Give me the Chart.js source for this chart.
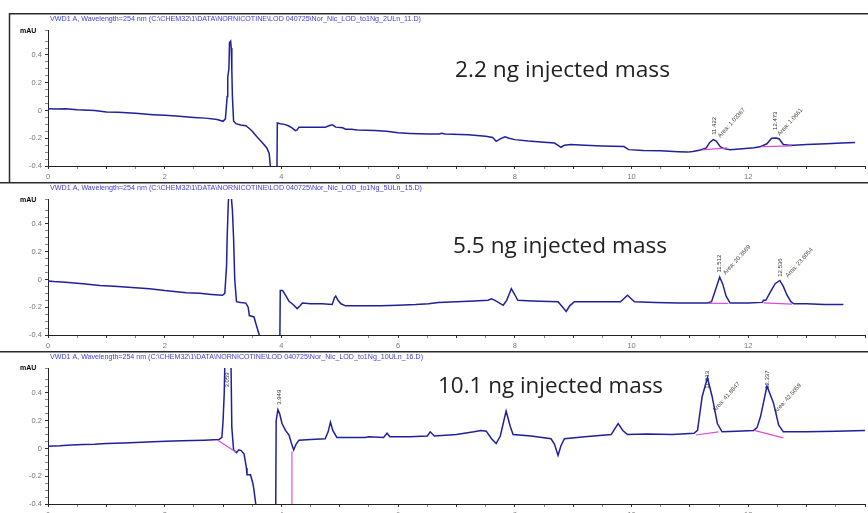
<!DOCTYPE html>
<html><head><meta charset="utf-8">
<script src="https://cdn.jsdelivr.net/npm/chart.js@4.4.1/dist/chart.umd.min.js"></script>
<style>
html,body{margin:0;padding:0;background:#fff;overflow:hidden;}
#wrap{position:relative;width:868px;height:513px;overflow:hidden;background:#fff;}
canvas{position:absolute;left:0;}
</style></head><body>
<div id="wrap">
<canvas id="c1" width="868" height="169" style="top:13px"></canvas>
<canvas id="c2" width="868" height="169" style="top:182px"></canvas>
<canvas id="c3" width="868" height="169" style="top:351px"></canvas>
</div>
<script>
// ---------- tick labels ----------
const xTickValues = [0, 2, 4, 6, 8, 10, 12];
const xTickLabels = ['0', '2', '4', '6', '8', '10', '12'];
const yTickValues = [-0.4, -0.2, 0, 0.2, 0.4];
const yTickLabels = ['-0.4', '-0.2', '0', '0.2', '0.4'];

// ---------- titles ----------
const panelTitles = [
  'VWD1 A, Wavelength=254 nm (C:\\CHEM32\\1\\DATA\\NORNICOTINE\\LOD 040725\\Nor_Nic_LOD_to1Ng_2ULn_11.D)',
  'VWD1 A, Wavelength=254 nm (C:\\CHEM32\\1\\DATA\\NORNICOTINE\\LOD 040725\\Nor_Nic_LOD_to1Ng_5ULn_15.D)',
  'VWD1 A, Wavelength=254 nm (C:\\CHEM32\\1\\DATA\\NORNICOTINE\\LOD 040725\\Nor_Nic_LOD_to1Ng_10ULn_16.D)'
];
const massLabels = ['2.2 ng injected mass', '5.5 ng injected mass', '10.1 ng injected mass'];

// ---------- panel 1 (2.2 ng) ----------
const p1Time = [0.00,0.15,0.30,0.50,0.80,1.00,1.20,1.50,1.80,2.00,2.20,2.50,2.70,2.90,3.00,3.04,3.07,3.08,3.10,3.11,3.13,3.14,3.15,3.16,3.18,3.22,3.30,3.39,3.45,3.50,3.58,3.67,3.75,3.79,3.81,3.82,3.92,3.93,3.98,4.05,4.12,4.18,4.24,4.27,4.30,4.50,4.75,4.85,4.88,4.93,5.05,5.10,5.20,5.30,5.60,5.80,6.00,6.20,6.50,6.70,6.75,6.80,7.20,7.50,7.62,7.68,7.75,7.83,7.90,8.00,8.23,8.50,8.68,8.79,8.85,8.96,9.20,9.50,9.87,9.95,10.20,10.50,10.80,10.96,11.05,11.18,11.28,11.34,11.40,11.45,11.52,11.58,11.69,11.90,12.10,12.20,12.32,12.40,12.48,12.53,12.60,12.70,12.78,13.00,13.34,13.60,13.83];
const p1Signal = [0.012,0.010,0.012,0.005,0.000,-0.010,-0.012,-0.020,-0.030,-0.035,-0.040,-0.050,-0.055,-0.065,-0.078,-0.060,0.100,0.240,0.300,0.490,0.500,0.450,0.290,0.100,-0.075,-0.095,-0.105,-0.110,-0.130,-0.150,-0.190,-0.230,-0.270,-0.310,-0.400,-0.600,-0.600,-0.090,-0.095,-0.100,-0.110,-0.125,-0.145,-0.140,-0.120,-0.120,-0.120,-0.105,-0.105,-0.120,-0.125,-0.135,-0.135,-0.140,-0.145,-0.150,-0.160,-0.165,-0.170,-0.170,-0.165,-0.170,-0.175,-0.185,-0.195,-0.222,-0.205,-0.190,-0.200,-0.210,-0.220,-0.228,-0.235,-0.265,-0.250,-0.245,-0.250,-0.255,-0.260,-0.282,-0.288,-0.290,-0.297,-0.300,-0.295,-0.284,-0.270,-0.230,-0.210,-0.220,-0.260,-0.275,-0.282,-0.275,-0.268,-0.262,-0.240,-0.200,-0.198,-0.205,-0.245,-0.250,-0.250,-0.245,-0.240,-0.235,-0.230];
const p1BaseTime = [[11.21, 11.64], [12.24, 12.75]];
const p1BaseValue = [[-0.284, -0.270], [-0.260, -0.255]];
const p1PeakRT = ['11.422', '12.473'];
const p1PeakArea = ['Area: 1.03367', 'Area: 1.0661'];
const p1RTAt = [[11.41, -0.175], [12.46, -0.14]];
const p1AreaAt = [[11.50, -0.19], [12.52, -0.175]];

// ---------- panel 2 (5.5 ng) ----------
const p2Time = [0.00,0.10,0.30,0.60,0.89,1.20,1.50,1.74,2.00,2.37,2.60,2.80,2.99,3.03,3.06,3.07,3.09,3.11,3.14,3.16,3.18,3.20,3.23,3.30,3.39,3.43,3.45,3.53,3.57,3.62,3.64,3.97,3.98,4.02,4.08,4.13,4.20,4.27,4.32,4.36,4.50,4.70,4.87,4.91,4.93,4.97,5.02,5.10,5.40,5.70,6.00,6.30,6.52,6.69,7.00,7.30,7.54,7.60,7.66,7.80,7.86,7.94,8.00,8.05,8.30,8.74,8.82,8.88,8.94,9.02,9.40,9.81,9.93,10.05,10.40,10.80,11.30,11.37,11.45,11.51,11.56,11.62,11.69,12.00,12.24,12.26,12.30,12.38,12.46,12.54,12.60,12.66,12.73,12.78,13.00,13.30,13.63];
const p2Signal = [-0.010,-0.015,-0.020,-0.030,-0.043,-0.050,-0.060,-0.067,-0.080,-0.095,-0.100,-0.108,-0.114,-0.100,0.100,0.300,0.560,0.650,0.600,0.500,0.300,0.000,-0.160,-0.165,-0.170,-0.200,-0.260,-0.270,-0.330,-0.400,-0.600,-0.600,-0.080,-0.080,-0.120,-0.157,-0.180,-0.210,-0.190,-0.170,-0.175,-0.175,-0.180,-0.130,-0.120,-0.150,-0.175,-0.190,-0.190,-0.190,-0.185,-0.180,-0.174,-0.165,-0.160,-0.155,-0.150,-0.140,-0.150,-0.186,-0.150,-0.066,-0.110,-0.150,-0.155,-0.160,-0.200,-0.230,-0.190,-0.160,-0.160,-0.160,-0.114,-0.160,-0.165,-0.170,-0.170,-0.160,-0.060,0.017,-0.030,-0.120,-0.170,-0.170,-0.165,-0.150,-0.150,-0.090,-0.030,-0.007,-0.050,-0.110,-0.160,-0.175,-0.175,-0.180,-0.180];
const p2BaseTime = [[11.32, 11.66], [12.26, 12.75]];
const p2BaseValue = [[-0.172, -0.172], [-0.168, -0.178]];
const p2PeakRT = ['11.512', '12.536'];
const p2PeakArea = ['Area: 20.3669', 'Area: 23.6054'];
const p2RTAt = [[11.50, 0.05], [12.55, 0.02]];
const p2AreaAt = [[11.59, 0.04], [12.66, 0.02]];

// ---------- panel 3 (10.1 ng) ----------
const p3Time = [0.00,0.20,0.40,0.60,0.80,1.00,1.30,1.60,1.80,2.02,2.30,2.68,2.93,2.98,3.00,3.02,3.04,3.13,3.15,3.18,3.23,3.27,3.31,3.36,3.40,3.41,3.47,3.51,3.53,3.56,3.57,3.90,3.91,3.94,3.97,4.01,4.07,4.13,4.17,4.21,4.25,4.30,4.50,4.75,4.80,4.84,4.88,4.95,5.20,5.43,5.50,5.75,5.81,5.86,6.20,6.50,6.55,6.62,7.00,7.30,7.42,7.51,7.60,7.68,7.75,7.85,7.92,7.97,8.28,8.62,8.68,8.74,8.79,8.85,9.20,9.65,9.77,9.85,9.93,10.27,10.70,11.07,11.13,11.21,11.30,11.38,11.47,11.55,11.80,12.09,12.15,12.21,12.32,12.43,12.52,12.60,13.00,13.50,14.00];
const p3Signal = [0.017,0.020,0.025,0.028,0.030,0.036,0.040,0.045,0.048,0.053,0.055,0.060,0.065,0.080,0.200,0.400,0.800,0.800,0.150,-0.010,-0.030,-0.010,-0.015,-0.040,-0.140,-0.190,-0.190,-0.250,-0.300,-0.400,-0.600,-0.600,0.200,0.280,0.250,0.180,0.130,0.097,0.040,-0.010,0.030,0.060,0.065,0.070,0.120,0.190,0.130,0.080,0.080,0.080,0.085,0.080,0.110,0.085,0.085,0.090,0.120,0.090,0.100,0.120,0.130,0.125,0.070,0.036,0.090,0.270,0.160,0.100,0.090,0.070,0.030,-0.050,0.020,0.070,0.085,0.100,0.180,0.130,0.100,0.104,0.100,0.110,0.130,0.375,0.510,0.375,0.180,0.120,0.125,0.130,0.150,0.230,0.450,0.330,0.170,0.120,0.120,0.125,0.130];
const p3BaseTime = [[2.91, 3.22], [4.18, 4.18], [11.10, 11.49], [12.10, 12.60]];
const p3BaseValue = [[0.060, -0.025], [-0.450, -0.020], [0.097, 0.120], [0.130, 0.077]];
const p3PeakRT = ['3.059', '3.949', '11.313', '12.337'];
const p3PeakArea = ['', '', 'Area: 41.8847', 'Area: 42.5059'];
const p3RTAt = [[3.07, 0.44], [3.96, 0.315], [11.30, 0.43], [12.33, 0.43]];
const p3AreaAt = [null, null, [11.41, 0.27], [12.46, 0.26]];

// ---------- helpers ----------
function pts(t, v) { return t.map((x, i) => ({ x: x, y: v[i] })); }

const TRACE = '#20209a';
const BASE = '#d94ed9';

const decor = {
  id: 'decor',
  beforeDatasetsDraw(chart, args, o) {
    // peak annotations (clipped to plot area), drawn under the trace
    const ctx = chart.ctx, xs = chart.scales.x, ys = chart.scales.y, ca = chart.chartArea;
    ctx.save();
    ctx.beginPath(); ctx.rect(ca.left, ca.top, ca.right - ca.left, ca.bottom - ca.top); ctx.clip();
    ctx.font = '6px "Liberation Sans", Arial, sans-serif';
    o.rt.forEach((txt, i) => {
      const p = o.rtAt[i];
      ctx.save();
      ctx.translate(xs.getPixelForValue(p[0]), ys.getPixelForValue(p[1]));
      ctx.rotate(-Math.PI / 2);
      ctx.fillStyle = '#333'; ctx.textAlign = 'left'; ctx.textBaseline = 'middle';
      ctx.fillText(txt, 0, 0);
      ctx.restore();
      const a = o.areaAt[i];
      if (a && o.area[i]) {
        ctx.save();
        ctx.translate(xs.getPixelForValue(a[0]), ys.getPixelForValue(a[1]));
        ctx.rotate(-48 * Math.PI / 180);
        ctx.fillStyle = '#4a4a3a'; ctx.textAlign = 'left'; ctx.textBaseline = 'middle';
        ctx.fillText(o.area[i], 0, 0);
        ctx.restore();
      }
    });
    ctx.restore();
  },
  afterDraw(chart, args, o) {
    const ctx = chart.ctx;
    ctx.save();
    // frame lines
    ctx.strokeStyle = '#2b2b2b'; ctx.lineWidth = 1.5;
    ctx.beginPath(); ctx.moveTo(o.frameLeft, 0.75); ctx.lineTo(868, 0.75); ctx.stroke();
    if (o.leftLine) { ctx.beginPath(); ctx.moveTo(9.5, 0); ctx.lineTo(9.5, 169); ctx.stroke(); }
    // blue title
    ctx.font = '7px "Liberation Sans", Arial, sans-serif';
    ctx.fillStyle = '#4040d8'; ctx.textBaseline = 'middle'; ctx.textAlign = 'left';
    const tw = ctx.measureText(o.title).width;
    ctx.save(); ctx.translate(50, 6); ctx.scale(o.titleWidth / tw, 1); ctx.fillText(o.title, 0, 0); ctx.restore();
    // mAU
    ctx.font = 'bold 7px "Liberation Sans", Arial, sans-serif';
    ctx.fillStyle = '#000'; ctx.textBaseline = 'middle';
    ctx.fillText('mAU', 20, o.mauY);
    // big mass label
    ctx.font = '22px "Open Sans", "Noto Sans", sans-serif';
    ctx.fillStyle = '#222'; ctx.textBaseline = 'alphabetic';
    const bw = ctx.measureText(o.mass).width;
    ctx.save(); ctx.translate(o.massX, o.massY); ctx.scale(o.massW / bw, 1); ctx.fillText(o.mass, 0, 0); ctx.restore();
    ctx.restore();
  }
};

function makeChart(id, times, signal, baseT, baseV, cfg) {
  const datasets = [];
  baseT.forEach((bt, i) => {
    datasets.push({ data: pts(bt, baseV[i]), borderColor: BASE, borderWidth: 1.2, pointRadius: 0, order: 0 });
  });
  datasets.push({ data: pts(times, signal), borderColor: TRACE, borderWidth: 1.5, pointRadius: 0, order: 1 });
  const tickFont = { size: 7.5, family: '"Liberation Sans", Arial, sans-serif' };
  return new Chart(document.getElementById(id), {
    type: 'line',
    data: { datasets: datasets },
    options: {
      responsive: false, animation: false, devicePixelRatio: 1,
      layout: { padding: { top: 17, right: 1, left: 0, bottom: 0 } },
      plugins: { legend: { display: false }, tooltip: { enabled: false }, decor: cfg },
      elements: { line: { tension: 0 } },
      scales: {
        x: {
          type: 'linear', min: 0, max: 14,
          ticks: {
            stepSize: 0.5, autoSkip: false, maxRotation: 0, padding: 3, color: '#777', font: tickFont,
            callback: (v) => { const k = xTickValues.findIndex(t => Math.abs(t - v) < 1e-6); return k >= 0 ? xTickLabels[k] : ''; }
          },
          grid: { drawOnChartArea: false, drawTicks: true, tickLength: 3,
                  tickColor: (c) => (c.tick && Math.abs(c.tick.value % 1) < 1e-6) ? '#333' : '#888' },
          border: { display: true, color: '#222', width: 1 },
          afterFit: (s) => { s.height = 16; }
        },
        y: {
          min: -0.4, max: 0.58,
          ticks: {
            stepSize: 0.05, maxTicksLimit: 100, autoSkip: false, padding: 3, color: '#777', font: tickFont,
            callback: (v) => { const k = yTickValues.findIndex(t => Math.abs(t - v) < 1e-6); return k >= 0 ? yTickLabels[k] : ''; }
          },
          grid: { drawOnChartArea: false, drawTicks: true, tickLength: 3,
                  tickColor: (c) => (c.tick && yTickValues.some(t => Math.abs(t - c.tick.value) < 1e-6)) ? '#333' : '#888' },
          border: { display: true, color: '#222', width: 1 },
          afterFit: (s) => { s.width = 48; }
        }
      }
    },
    plugins: [decor]
  });
}

makeChart('c1', p1Time, p1Signal, p1BaseTime, p1BaseValue, {
  frameLeft: 9, leftLine: true, title: panelTitles[0], titleWidth: 371, mauY: 18,
  mass: massLabels[0], massX: 455, massY: 64, massW: 215,
  rt: p1PeakRT, rtAt: p1RTAt, area: p1PeakArea, areaAt: p1AreaAt
});
makeChart('c2', p2Time, p2Signal, p2BaseTime, p2BaseValue, {
  frameLeft: 0, leftLine: false, title: panelTitles[1], titleWidth: 372, mauY: 18,
  mass: massLabels[1], massX: 453, massY: 71, massW: 214,
  rt: p2PeakRT, rtAt: p2RTAt, area: p2PeakArea, areaAt: p2AreaAt
});
makeChart('c3', p3Time, p3Signal, p3BaseTime, p3BaseValue, {
  frameLeft: 0, leftLine: false, title: panelTitles[2], titleWidth: 373, mauY: 17,
  mass: massLabels[2], massX: 438, massY: 42, massW: 225,
  rt: p3PeakRT, rtAt: p3RTAt, area: p3PeakArea, areaAt: p3AreaAt
});
</script>
</body></html>
